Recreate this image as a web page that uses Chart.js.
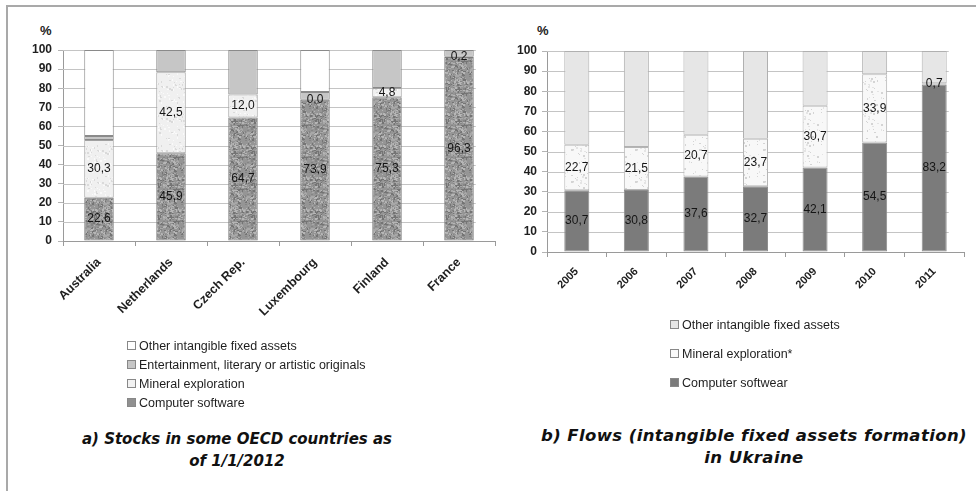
<!DOCTYPE html>
<html><head><meta charset="utf-8">
<script src="https://cdn.jsdelivr.net/npm/chart.js@4/dist/chart.umd.min.js"></script>
<style>
body{margin:0;background:#fff;width:976px;height:491px;overflow:hidden;position:relative;font-family:Arial,"Liberation Sans",sans-serif;color:#222}
.fl{position:absolute;background:#a9a9a9}
.cw{position:absolute}
.pct{position:absolute;font:bold 13px Arial,"Liberation Sans",sans-serif;color:#222}
.leg{position:absolute;font:12.5px Arial,"Liberation Sans",sans-serif;color:#1e1e1e}
.leg div{position:absolute;white-space:nowrap;left:0}
.leg span.sw{display:inline-block;width:7px;height:7px;border:1px solid #888;margin-right:3px;vertical-align:0px}
.ttl{position:absolute;font-family:"DejaVu Sans",Verdana,sans-serif;font-weight:bold;font-style:italic;color:#111;text-align:center;white-space:nowrap;line-height:22px}
</style></head>
<body>
<div class="fl" style="left:6px;top:5px;width:2px;height:486px"></div>
<div class="fl" style="left:6px;top:5px;width:970px;height:2px"></div>
<div class="pct" style="left:40px;top:23px">%</div>
<div class="pct" style="left:537px;top:23px">%</div>
<div class="cw" style="left:0;top:0;width:500px;height:340px"><canvas id="c1" width="500" height="340"></canvas></div>
<div class="cw" style="left:500px;top:0;width:476px;height:340px"><canvas id="c2" width="476" height="340"></canvas></div>
<div class="leg" id="leg1" style="left:127px;top:339px"></div>
<div class="leg" id="leg2" style="left:670px;top:318px"></div>
<div class="ttl" style="left:37px;top:428px;width:400px;font-size:15px">a) Stocks in some OECD countries as<br>of 1/1/2012</div>
<div class="ttl" style="left:532px;top:425px;width:444px;font-size:16.5px;letter-spacing:0.4px">b) Flows (intangible fixed assets formation)<br>in Ukraine</div>
<script>
// ---------- DATA ----------
const countries = ['Australia','Netherlands','Czech Rep.','Luxembourg','Finland','France'];
const oecdSoftware      = [22.6, 45.9, 64.7, 73.9, 75.3, 96.3];
const oecdMineral       = [30.3, 42.5, 12.0, 0.0, 4.8, 0.2];
const oecdEntertainment = [2.1, 11.6, 23.3, 4.1, 19.9, 3.5];
const oecdOther         = [45.0, 0.0, 0.0, 22.0, 0.0, 0.0];

const years = ['2005','2006','2007','2008','2009','2010','2011'];
const ukrSoftware = [30.7, 30.8, 37.6, 32.7, 42.1, 54.5, 83.2];
const ukrMineral  = [22.7, 21.5, 20.7, 23.7, 30.7, 33.9, 0.7];
const ukrOther    = [46.6, 47.7, 41.7, 43.6, 27.2, 11.6, 16.1];

const yTicks = [0,10,20,30,40,50,60,70,80,90,100];

// ---------- STYLE HELPERS ----------
function speckle(base, cols, n, seed){
  const c=document.createElement('canvas'); c.width=c.height=32;
  const x=c.getContext('2d'); x.fillStyle=base; x.fillRect(0,0,32,32);
  let s=seed>>>0;
  const r=()=>{ s=(Math.imul(s,1664525)+1013904223)>>>0; return s/4294967296; };
  for(let i=0;i<n;i++){ x.fillStyle=cols[Math.floor(r()*cols.length)]; x.fillRect(Math.floor(r()*32),Math.floor(r()*32),r()<0.4?2:1,r()<0.4?2:1); }
  return x.createPattern(c,'repeat');
}
const fmt = v => v.toFixed(1).replace('.', ',');
const FONT = 'Arial, "Liberation Sans", sans-serif';

const labelPlugin = {
  id:'seglabels',
  afterDatasetsDraw(chart){
    const ctx=chart.ctx;
    ctx.save();
    ctx.font='12px ' + FONT;
    ctx.fillStyle='#151515';
    ctx.textAlign='center'; ctx.textBaseline='middle';
    chart.data.datasets.forEach((ds,i)=>{
      if(!ds.showValues) return;
      chart.getDatasetMeta(i).data.forEach((el,j)=>{
        const p=el.getProps(['x','y','base'],true);
        ctx.fillText(fmt(ds.data[j]), p.x, (p.y+p.base)/2);
      });
    });
    ctx.restore();
  }
};

// horizontal grid lines that stop at the right edge of the last bar
const gridPlugin = {
  id:'shortgrid',
  beforeDatasetsDraw(chart){
    const meta=chart.getDatasetMeta(0);
    const last=meta.data[meta.data.length-1];
    const p=last.getProps(['x','width'],true);
    const xr=p.x+p.width/2+2;
    const ys=chart.scales.y, ctx=chart.ctx;
    ctx.save();
    ctx.strokeStyle='#c4c4c4'; ctx.lineWidth=1;
    ys.ticks.forEach(t=>{
      if(t.value===0) return;
      const y=Math.round(ys.getPixelForValue(t.value))+0.5;
      ctx.beginPath(); ctx.moveTo(chart.chartArea.left,y); ctx.lineTo(xr,y); ctx.stroke();
    });
    ctx.restore();
  }
};

function makeChart(id, labels, datasets, o){
  return new Chart(document.getElementById(id), {
    type:'bar',
    data:{labels, datasets},
    plugins:[gridPlugin,labelPlugin],
    options:{
      responsive:false, animation:false, events:[],
      layout:{padding:{top:o.top,right:o.right,left:0,bottom:0}},
      plugins:{legend:{display:false},tooltip:{enabled:false}},
      datasets:{bar:{barPercentage:o.bp,categoryPercentage:1,borderWidth:1,borderSkipped:false}},
      scales:{
        x:{stacked:true,
           grid:{display:true,drawOnChartArea:false,drawTicks:true,tickLength:5,color:'#9a9a9a',offset:true},
           border:{display:true,color:'#9a9a9a',width:1},
           ticks:{minRotation:45,maxRotation:45,autoSkip:false,padding:o.xpad,color:'#1e1e1e',
                  font:{family:FONT,size:o.xfs,weight:'bold'}},
           afterFit(s){ s.height=o.xh; }},
        y:{stacked:true,min:0,max:100,
           afterBuildTicks(s){ s.ticks=yTicks.map(v=>({value:v})); },
           grid:{color:'#b4b4b4',lineWidth:1,tickLength:5,drawTicks:true,drawOnChartArea:false},
           border:{display:true,color:'#9a9a9a',width:1},
           ticks:{padding:o.ypad,color:'#1e1e1e',font:{family:FONT,size:12,weight:'bold'}},
           afterFit(s){ s.width=o.yw; }}
      }
    }
  });
}

// ---------- LEFT CHART ----------
const softL = speckle('#959595',['#747474','#b6b6b6','#858585','#a8a8a8'],380,7);
const minL  = speckle('#f0f0f0',['#dadada','#fafafa'],80,11);
const leftSets = [
  {label:'Computer software', data:oecdSoftware, backgroundColor:softL, borderColor:'#7c7c7c', swatch:'#909090', showValues:true},
  {label:'Mineral exploration', data:oecdMineral, backgroundColor:minL, borderColor:'#a0a0a0', swatch:'#f2f2f2', showValues:true},
  {label:'Entertainment, literary or artistic originals', data:oecdEntertainment, backgroundColor:'#c6c6c6', borderColor:'#8a8a8a', swatch:'#c6c6c6'},
  {label:'Other intangible fixed assets', data:oecdOther, backgroundColor:'#ffffff', borderColor:'#8a8a8a', swatch:'#ffffff'}
];
makeChart('c1', countries, leftSets, {top:50,right:5,yw:63,xh:99,bp:0.41,xpad:9,xfs:12.5,ypad:6});

// ---------- RIGHT CHART ----------
const minR = speckle('#f8f8f8',['#d4d4d4','#e4e4e4'],40,23);
const rightSets = [
  {label:'Computer softwear', data:ukrSoftware, backgroundColor:'#7b7b7b', borderColor:'#8f8f8f', swatch:'#7b7b7b', showValues:true},
  {label:'Mineral exploration*', data:ukrMineral, backgroundColor:minR, borderColor:'#b5b5b5', swatch:'#fafafa', showValues:true},
  {label:'Other intangible fixed assets', data:ukrOther, backgroundColor:'#e6e6e6', borderColor:'#b0b0b0', swatch:'#e6e6e6'}
];
makeChart('c2', years, rightSets, {top:51,right:12,yw:47,xh:88,bp:0.42,xpad:8,xfs:11,ypad:5});

// ---------- LEGENDS ----------
function legend(id, sets, step){
  const el=document.getElementById(id);
  sets.slice().reverse().forEach((d,i)=>{
    const row=document.createElement('div');
    row.style.top=(i*step)+'px';
    const sw=document.createElement('span'); sw.className='sw'; sw.style.background=d.swatch;
    row.appendChild(sw); row.appendChild(document.createTextNode(d.label));
    el.appendChild(row);
  });
}
legend('leg1', leftSets, 19);
legend('leg2', rightSets, 29);
</script>
</body></html>
